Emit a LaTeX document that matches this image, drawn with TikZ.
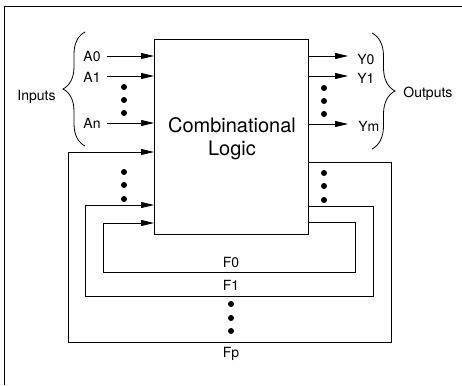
\documentclass[tikz,border=0pt]{standalone}
\usepackage{fontspec}
\setmainfont{TeX Gyre Heros}
\usetikzlibrary{arrows.meta,decorations.pathreplacing}
\begin{document}
\begin{tikzpicture}[x=1pt,y=-1pt, line width=0.8pt,
  lbl/.style={font=\fontsize{14}{16}\selectfont, inner sep=0pt},
  sig/.style={-{Triangle[length=13pt,width=6pt]}},
  dotn/.style={circle, fill, inner sep=0pt, minimum size=6pt},
  brc/.style={decorate, decoration={brace, amplitude=#1}}]
\useasboundingbox (0,0) rectangle (462,385);
% frame (left and top only)
\draw (4.5,385) -- (4.5,6.5) -- (462,6.5);
% main box
\node[draw, minimum width=154pt, minimum height=195pt, inner sep=0pt, anchor=north west] (logic) at (154,39) {};
\node[font=\fontsize{20}{23}\selectfont, align=center, inner sep=0pt] (logictext) at (232,139) {Combinational\\Logic};
% inputs
\node[lbl, anchor=base east] (a0) at (101,62) {A0};
\node[lbl, anchor=base east] (a1) at (101,82) {A1};
\node[lbl, anchor=base east] (an) at (101,128) {An};
\coordinate (a0s) at (107,56);
\coordinate (a1s) at (107,76);
\coordinate (ans) at (107,123);
\draw[sig] (a0s) -- (a0s -| logic.west);
\draw[sig] (a1s) -- (a1s -| logic.west);
\draw[sig] (ans) -- (ans -| logic.west);
\node[dotn] (id1) at (124,87) {};
\node[dotn] (id2) at (124,100) {};
\node[dotn] (id3) at (124,113) {};
\draw[brc=22] (85,146) -- (85,32);
\node[lbl, anchor=base west] (inputs) at (17,100) {Inputs};
% outputs
\coordinate (y0e) at (348,56);
\coordinate (y1e) at (348,76);
\coordinate (yme) at (348,124);
\draw[sig] (y0e -| logic.east) -- (y0e);
\draw[sig] (y1e -| logic.east) -- (y1e);
\draw[sig] (yme -| logic.east) -- (yme);
\node[lbl, anchor=base west] (y0) at (357,65) {Y0};
\node[lbl, anchor=base west] (y1) at (357,84) {Y1};
\node[lbl, anchor=base west] (ym) at (358,131) {Ym};
\node[dotn] (od1) at (324,88) {};
\node[dotn] (od2) at (324,101) {};
\node[dotn] (od3) at (324,114) {};
\draw[brc=23] (372,33) -- (372,149);
\node[lbl, anchor=base west] (outputs) at (403,98) {Outputs};
% feedback loops
\coordinate (fpo) at (308,162);
\coordinate (fpi) at (154,152);
\coordinate (f1o) at (308,206);
\coordinate (f1i) at (154,205);
\coordinate (f0o) at (308,222);
\coordinate (f0i) at (154,223);
\draw[sig] (fpo) -- (391,162) -- (391,342) -- (68,342) -- (68,152) -- (fpi);
\draw[sig] (f1o) -- (373,206) -- (373,296) -- (85,296) -- (85,205) -- (f1i);
\draw[sig] (f0o) -- (355,222) -- (355,272) -- (103,272) -- (103,223) -- (f0i);
\node[dotn] (ld1) at (124,172) {};
\node[dotn] (ld2) at (124,185) {};
\node[dotn] (ld3) at (124,199) {};
\node[dotn] (rd1) at (324,173) {};
\node[dotn] (rd2) at (324,186) {};
\node[dotn] (rd3) at (324,200) {};
\node[lbl, anchor=base] (f0) at (231,267) {F0};
\node[lbl, anchor=base] (f1) at (231,290) {F1};
\node[dotn] (fd1) at (231,304) {};
\node[dotn] (fd2) at (231,318) {};
\node[dotn] (fd3) at (231,331) {};
\node[lbl, anchor=base] (fp) at (231,357) {Fp};
\end{tikzpicture}
\end{document}
